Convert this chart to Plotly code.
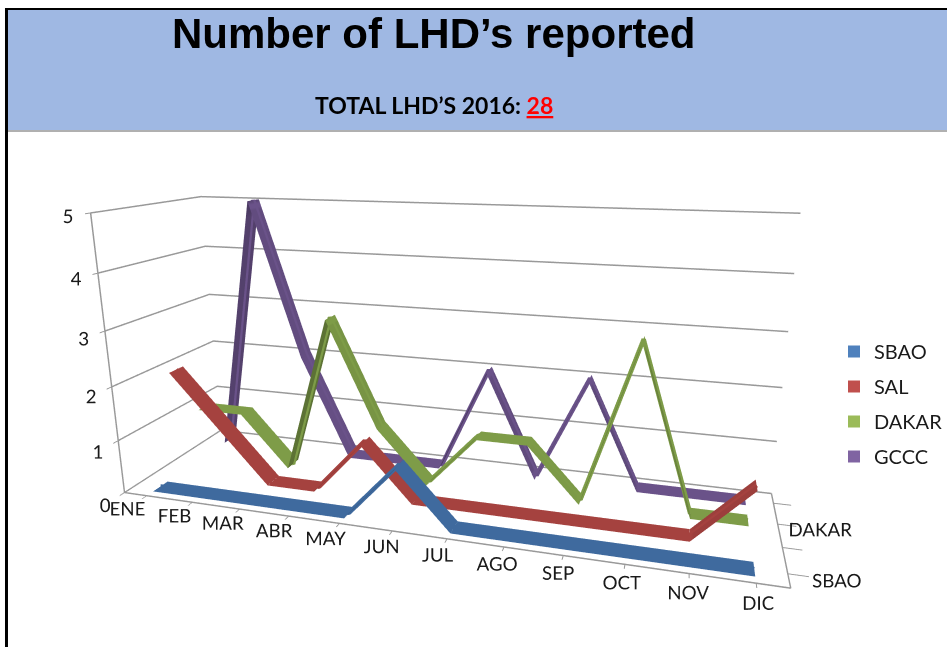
import plotly.graph_objects as go

months = ["ENE","FEB","MAR","ABR","MAY","JUN","JUL","AGO","SEP","OCT","NOV","DIC"]
series_names = ["SBAO","SAL","DAKAR","GCCC"]
sbao  = [0,0,0,0,0,1,0,0,0,0,0,0]
sal   = [2,1,0,0,1,0,0,0,0,0,0,1]
dakar = [1,1,0,3,1,0,1,1,0,3,0,0]
gccc  = [0,5,2,0,0,0,2,0,2,0,0,0]
colors = ["#4F81BD","#C0504D","#9BBB59","#8064A2"]
ribbon_colors = ["#3F6A9E","#A5423F","#7E9C48","#6A5289"]
depth_ticks = ["SBAO","","DAKAR",""]
W, H = 948, 647
HALF = 0.27

def px(v): return v / W
def py(v): return 1 - v / H

fig = go.Figure()
xs = list(range(12))
for i, (name, vals, c) in enumerate(zip(series_names, [sbao, sal, dakar, gccc], ribbon_colors)):
    fig.add_trace(go.Surface(x=xs, y=[i - HALF, i + HALF], z=[vals, vals], showscale=False,
                             colorscale=[[0, c], [1, c]], hoverinfo="skip", showlegend=False,
                             lighting=dict(ambient=0.72, diffuse=0.45, specular=0, roughness=1, fresnel=0),
                             lightposition=dict(x=500, y=-3000, z=5000)))
    fig.add_trace(go.Scatter3d(x=xs, y=[i] * 12, z=vals, mode="lines", showlegend=False, hoverinfo="skip",
                               line=dict(color=c, width=9)))
for name, c in zip(series_names, colors):
    fig.add_trace(go.Scatter3d(x=[None], y=[None], z=[None], mode="markers", name=name, legendgroup=name,
                               marker=dict(color=c, size=14, symbol="square")))

font_tick = dict(family="Lato, Open Sans, sans-serif", size=15, color="#1a1a1a")
font_legend = dict(family="Lato, Open Sans, sans-serif", size=20, color="#1a1a1a")
ax_common = dict(showbackground=False, zeroline=False, showspikes=False, tickfont=font_tick, title=dict(text=""),
                 showline=True, linecolor="#999", linewidth=3, ticks="outside", ticklen=6, tickcolor="#999",
                 tickwidth=2, tickangle=0)
fig.update_layout(
    width=W, height=H, margin=dict(l=0, r=0, t=0, b=0), paper_bgcolor="white",
    scene=dict(
        domain=dict(x=[0, 1], y=[0, 1]),
        aspectmode="manual", aspectratio=dict(x=2.386, y=0.65, z=1.066),
        xaxis=dict(ax_common, tickvals=xs, ticktext=months, range=[-0.5, 11.5], showgrid=False, ticklen=14),
        yaxis=dict(ax_common, tickvals=[0, 1, 2, 3], ticktext=depth_ticks, range=[-0.5, 3.5], showgrid=False),
        zaxis=dict(ax_common, tickvals=[0, 1, 2, 3, 4, 5], range=[0, 5], showgrid=True, gridcolor="#999", gridwidth=3, ticklen=10),
        camera=dict(eye=dict(x=0.822, y=-2.606, z=0.836), center=dict(x=0.08, y=0.083, z=0.121), up=dict(x=0, y=0, z=1)),
    ),
    legend=dict(x=px(835), y=py(332), xanchor="left", yanchor="top", font=font_legend, itemsizing="constant",
                tracegroupgap=6, bgcolor="rgba(0,0,0,0)"),
    shapes=[
        dict(type="rect", xref="paper", yref="paper", x0=px(7), x1=1, y0=py(130), y1=py(10), fillcolor="#9FB8E3", line_width=0, layer="below"),
        dict(type="rect", xref="paper", yref="paper", x0=px(7), x1=1, y0=py(132), y1=py(130), fillcolor="#B0B0B0", line_width=0, layer="below"),
        dict(type="rect", xref="paper", yref="paper", x0=px(5), x1=1, y0=py(10), y1=py(8), fillcolor="#000", line_width=0, layer="below"),
        dict(type="rect", xref="paper", yref="paper", x0=px(5), x1=px(8), y0=0, y1=py(8), fillcolor="#000", line_width=0, layer="below"),
    ],
    annotations=[
        dict(text="<b>Number of LHD’s reported</b>", xref="paper", yref="paper", x=px(434), y=py(33), showarrow=False,
             yanchor="middle", font=dict(family="Liberation Sans", size=42, color="#000")),
        dict(text="<b>TOTAL LHD’S 2016: <span style='color:#f00'><u>28</u></span></b>", xref="paper", yref="paper",
             x=px(434), y=py(105), showarrow=False, yanchor="middle", font=dict(family="Lato", size=23, color="#000")),
    ],
)
fig.write_html("out.html", config={"displayModeBar": False}, post_script="document.body.style.margin='0';")
